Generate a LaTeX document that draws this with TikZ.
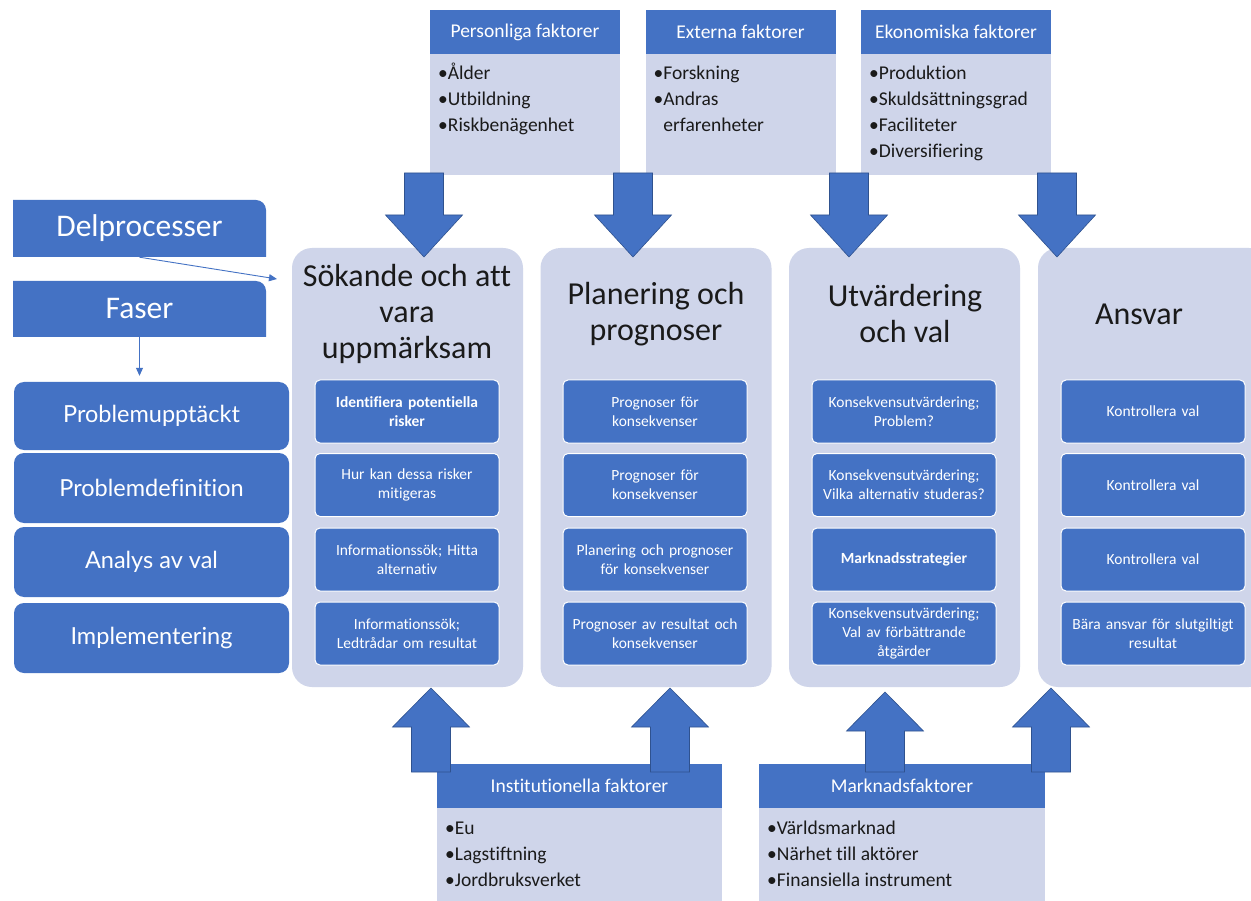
\documentclass[tikz,border=0pt]{standalone}
\usepackage{fontspec}
\setmainfont{Carlito}[Ligatures=NoCommon]
\newfontfamily\latofont{Lato}[Ligatures=NoCommon]
\usetikzlibrary{arrows.meta}
\definecolor{blu}{HTML}{4472C4}
\definecolor{lav}{HTML}{CFD5EA}
\definecolor{darkblu}{HTML}{2F528F}
\definecolor{ink}{HTML}{1A1A1A}
\newcommand{\firststrut}{\vphantom{Åg}}
\tikzset{
  facthead/.style={fill=blu, text=white, minimum width=190, minimum height=44, inner sep=0, font=\fontsize{19.5}{22}\selectfont},
  factbody/.style={fill=lav, minimum width=190, inner sep=0},
  facttext/.style={anchor=north west, align=left, inner sep=0, text=ink, font=\fontsize{19.5}{26}\selectfont},
  colbox/.style={fill=lav, rounded corners=20, minimum width=231, minimum height=439, inner sep=0},
  coltitle/.style={align=center, text=ink, font=\fontsize{32}{36}\selectfont},
  inbox/.style={fill=blu, draw=white, line width=1, rounded corners=5, minimum width=184, minimum height=63, text width=180, align=center, inner sep=0, text=white, font=\fontsize{15.5}{19}\selectfont},
  phase/.style={fill=blu, rounded corners=10, minimum width=275, text=white, inner sep=0, font=\latofont\fontsize{23.5}{27}\selectfont},
  sidehead/.style={text=white, minimum width=253, inner sep=0, font=\fontsize{31.5}{34}\selectfont},
  blockarrow/.style={fill=blu, draw=darkblu, line width=0.6},
  thinarrow/.style={draw=blu, line width=0.9, -{Triangle[width=7,length=8]}}
}
\newcommand{\downblock}[1]{%
  \path[blockarrow] (#1-19.5,173) -- (#1+19.5,173) -- (#1+19.5,215) -- (#1+38.5,215) -- (#1,257) -- (#1-38.5,215) -- (#1-19.5,215) -- cycle;}
\newcommand{\upblock}[3]{% center, tip y, base y
  \path[blockarrow] (#1-19.5,772) -- (#1+19.5,772) -- (#1+19.5,#3) -- (#1+38.5,#3) -- (#1,#2) -- (#1-38.5,#3) -- (#1-19.5,#3) -- cycle;}
\begin{document}
\begin{tikzpicture}[x=1pt,y=-1pt]
\useasboundingbox (0,0) rectangle (1251,901);
\clip (0,0) rectangle (1251,901);
\fill[white] (0,0) rectangle (1251,901);

% ---------- columns ----------
\node[colbox] (c1) at (407.5,467.5) {};
\node[colbox] (c2) at (656,467.5) {};
\node[colbox] (c3) at (904.5,467.5) {};
\node[colbox] (c4) at (1153.5,467.5) {};

\node[coltitle] (t1) at (407,314) {Sökande och att\\vara\\uppmärksam};
\node[coltitle] (t2) at (656,314) {Planering och\\prognoser};
\node[coltitle] (t3) at (905,314) {Utvärdering\\och val};
\node[coltitle] (t4) at (1139,314) {Ansvar};

% ---------- inner boxes ----------
\node[inbox] (a1) at (407,411.5) {\textbf{Identifiera potentiella}\\\textbf{risker}};
\node[inbox] (a2) at (407,485) {Hur kan dessa risker\\mitigeras};
\node[inbox] (a3) at (407,559.5) {Informationssök; Hitta\\alternativ};
\node[inbox] (a4) at (407,633.5) {Informationssök;\\Ledtrådar om resultat};

\node[inbox] (b1) at (655,411.5) {Prognoser för\\konsekvenser};
\node[inbox] (b2) at (655,485) {Prognoser för\\konsekvenser};
\node[inbox] (b3) at (655,559.5) {Planering och prognoser\\för konsekvenser};
\node[inbox] (b4) at (655,633.5) {Prognoser av resultat och\\konsekvenser};

\node[inbox] (d1) at (904,411.5) {Konsekvensutvärdering;\\Problem?};
\node[inbox] (d2) at (904,485) {Konsekvensutvärdering;\\Vilka alternativ studeras?};
\node[inbox] (d3) at (904,559.5) {\textbf{Marknadsstrategier}};
\node[inbox] (d4) at (904,633.5) {Konsekvensutvärdering;\\Val av förbättrande\\åtgärder};

\node[inbox] (e1) at (1153,411.5) {Kontrollera val};
\node[inbox] (e2) at (1153,485) {Kontrollera val};
\node[inbox] (e3) at (1153,559.5) {Kontrollera val};
\node[inbox] (e4) at (1153,633.5) {Bära ansvar för slutgiltigt\\resultat};

% ---------- top factor boxes ----------
\node[facthead] (ph) at (525,32) {Personliga faktorer};
\node[factbody, minimum height=121, anchor=north] (pb) at (ph.south) {};
\node[facttext] (pt) at (438,63) {\firststrut•Ålder\\•Utbildning\\•Riskbenägenhet};

\node[facthead] (xh) at (740.5,32) {Externa faktorer};
\node[factbody, minimum height=121, anchor=north] (xb) at (xh.south) {};
\node[facttext] (xt) at (653.5,63) {\firststrut•Forskning\\•Andras\\\hphantom{•}erfarenheter};

\node[facthead] (kh) at (956,32) {Ekonomiska faktorer};
\node[factbody, minimum height=121, anchor=north] (kb) at (kh.south) {};
\node[facttext] (kt) at (869,63) {\firststrut•Produktion\\•Skuldsättningsgrad\\•Faciliteter\\•Diversifiering};

% ---------- bottom factor boxes ----------
\node[facthead, minimum width=285] (ih) at (579.5,786) {Institutionella faktorer};
\node[factbody, minimum width=285, minimum height=110, anchor=north] (ib) at (ih.south) {};
\node[facttext] (it) at (445,818) {\firststrut•Eu\\•Lagstiftning\\•Jordbruksverket};

\node[facthead, minimum width=286] (mh) at (902,786) {Marknadsfaktorer};
\node[factbody, minimum width=286, minimum height=110, anchor=north] (mb) at (mh.south) {};
\node[facttext] (mt) at (767,818) {\firststrut•Världsmarknad\\•Närhet till aktörer\\•Finansiella instrument};

% ---------- block arrows ----------
\downblock{424}
\downblock{633}
\downblock{849}
\downblock{1057}
\upblock{431}{688}{727}
\upblock{670}{688}{727}
\upblock{885}{692}{731}
\upblock{1051}{688}{727}

% ---------- left side ----------
\fill[blu] (13,257) -- (13,200) [rounded corners=10] -- (266,200) [sharp corners] -- (266,257) -- cycle;
\node[sidehead, minimum height=57] (del) at (139.5,228.5) {Delprocesser};
\fill[blu] (13,337) -- (13,281) [rounded corners=10] -- (266,281) [sharp corners] -- (266,337) -- cycle;
\node[sidehead, minimum height=56] (fas) at (139.5,309) {Faser};

\node[phase, minimum height=68] (p1) at (151.5,416) {Problemupptäckt};
\node[phase, minimum height=70] (p2) at (151.5,488) {Problemdefinition};
\node[phase, minimum height=70] (p3) at (151.5,562) {Analys av val};
\node[phase, minimum height=70] (p4) at (151.5,638) {Implementering};

\coordinate (delend) at (277,279);
\draw[thinarrow] (del.south) -- (delend);
\draw[thinarrow, shorten >=6] (fas.south) -- (p1.north -| fas.south);
\end{tikzpicture}
\end{document}
